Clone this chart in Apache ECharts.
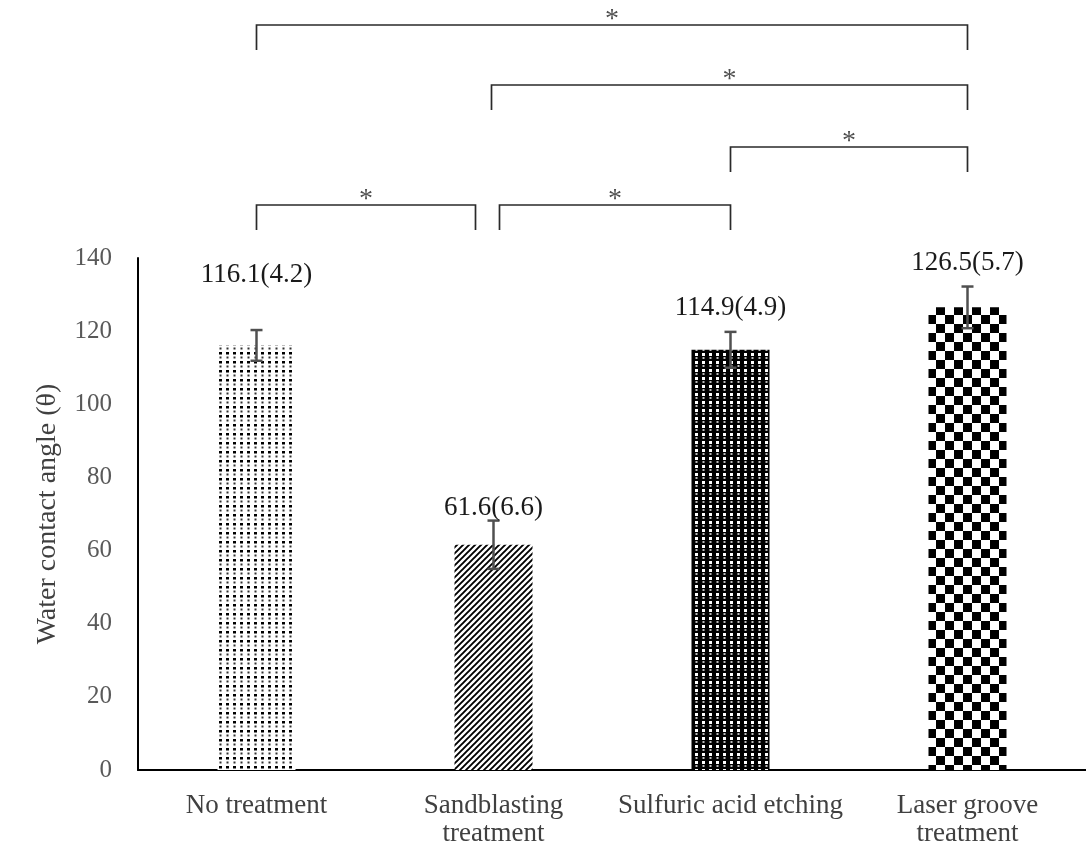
<!DOCTYPE html>
<html><head><meta charset="utf-8">
<script src="https://cdn.jsdelivr.net/npm/echarts@6/dist/echarts.min.js"></script>
<style>html,body{margin:0;padding:0;background:#fff}#c{width:1086px;height:852px}</style>
</head><body><div id="c"></div>
<script>
// ---- data ----
const categories = ['No treatment', 'Sandblasting\ntreatment', 'Sulfuric acid etching', 'Laser groove\ntreatment'];
const means = [116.1, 61.6, 114.9, 126.5];
const sds = [4.2, 6.6, 4.9, 5.7];
const yMin = 0, yMax = 140, yStep = 20;
// significance comparisons: [fromIndex, toIndex]
const comparisons = [[0, 3], [1, 3], [2, 3], [0, 1], [1, 2]];
const sigMarks = ['*', '*', '*', '*', '*'];

// ---- styling (not data) ----
const FONT = '"Liberation Serif", "Times New Roman", serif';
const labelLift = [70, 37, 42, 44];           // px above bar top for value labels
const bracketLevel = [233, 173, 111, 53, 53]; // px above grid top
const bracketEndShift = [[0, 0], [-2, 0], [0, 0], [0, -18], [6, 0]];
const bracketDrop = 25;

function tile(w, h, draw) {
  const c = document.createElement('canvas');
  c.width = w; c.height = h;
  const g = c.getContext('2d');
  draw(g);
  return c;
}
const patDots = tile(7, 9, g => {
  g.fillStyle = '#fff'; g.fillRect(0, 0, 7, 9);
  g.fillStyle = '#000'; g.fillRect(2, 1, 3, 2.5);
  g.fillStyle = '#333'; g.fillRect(2.5, 5.5, 2, 2);
});
const patDiag = tile(6, 6, g => {
  g.fillStyle = '#fff'; g.fillRect(0, 0, 6, 6);
  g.strokeStyle = '#000'; g.lineWidth = 1.9;
  g.beginPath();
  g.moveTo(-1, 7); g.lineTo(7, -1);
  g.moveTo(-1, 1); g.lineTo(1, -1);
  g.moveTo(5, 7); g.lineTo(7, 5);
  g.stroke();
});
const patBlackDots = tile(7, 8, g => {
  g.fillStyle = '#000'; g.fillRect(0, 0, 7, 8);
  g.fillStyle = '#fff'; g.fillRect(2, 1, 3, 3);
  g.fillStyle = '#bbb'; g.fillRect(2.5, 5, 2, 2);
});
const patChecker = tile(18, 18, g => {
  g.fillStyle = '#fff'; g.fillRect(0, 0, 18, 18);
  g.fillStyle = '#000'; g.fillRect(0, 0, 9, 9); g.fillRect(9, 9, 9, 9);
});
const patterns = [patDots, patDiag, patBlackDots, patChecker];

const chart = echarts.init(document.getElementById('c'), null, { renderer: 'canvas' });

const option = {
  backgroundColor: '#ffffff',
  animation: false,
  grid: { left: 138, top: 258, width: 976, height: 512, containLabel: false },
  xAxis: {
    type: 'category',
    data: categories,
    axisLine: { lineStyle: { color: '#000', width: 2 } },
    axisTick: { show: false },
    axisLabel: { color: '#404040', fontFamily: FONT, fontSize: 27, lineHeight: 28, margin: 22, interval: 0 },
    splitLine: { show: false }
  },
  yAxis: {
    type: 'value',
    min: yMin, max: yMax, interval: yStep,
    name: 'Water contact angle (θ)',
    nameLocation: 'middle',
    nameRotate: 90,
    nameGap: 76,
    nameTextStyle: { color: '#404040', fontFamily: FONT, fontSize: 28 },
    axisLine: { show: true, lineStyle: { color: '#000', width: 2 } },
    axisTick: { show: false },
    axisLabel: { color: '#595959', fontFamily: FONT, fontSize: 25, margin: 26 },
    splitLine: { show: false }
  },
  series: [
    {
      type: 'bar',
      barWidth: 78,
      data: means.map((v, i) => ({ value: v, itemStyle: { color: { image: patterns[i], repeat: 'repeat' } } })),
      z: 2
    },
    {
      type: 'custom',
      data: means.map((m, i) => [i, m, sds[i]]),
      encode: { x: 0, y: 1 },
      z: 3,
      renderItem: function (params, api) {
        const i = api.value(0), m = api.value(1), s = api.value(2);
        const top = api.coord([i, m + s]);
        const bot = api.coord([i, m - s]);
        const cw = 6;
        const st = { stroke: '#505050', lineWidth: 2.5 };
        return {
          type: 'group',
          children: [
            { type: 'line', shape: { x1: top[0], y1: top[1], x2: bot[0], y2: bot[1] }, style: st },
            { type: 'line', shape: { x1: top[0] - cw, y1: top[1], x2: top[0] + cw, y2: top[1] }, style: st },
            { type: 'line', shape: { x1: bot[0] - cw, y1: bot[1], x2: bot[0] + cw, y2: bot[1] }, style: st }
          ]
        };
      }
    },
    {
      type: 'custom',
      data: means.map((m, i) => [i, m, sds[i]]),
      encode: { x: 0, y: 1 },
      z: 4,
      clip: false,
      renderItem: function (params, api) {
        const i = api.value(0), m = api.value(1), s = api.value(2);
        const p = api.coord([i, m]);
        return {
          type: 'text',
          style: {
            x: p[0], y: p[1] - labelLift[params.dataIndex],
            text: m.toFixed(1) + '(' + s.toFixed(1) + ')',
            fill: '#1a1a1a', font: '27px ' + FONT, align: 'center', verticalAlign: 'middle'
          }
        };
      }
    },
    {
      type: 'custom',
      data: comparisons.map((c, k) => [c[0], c[1], k]),
      encode: { x: [0, 1] },
      z: 5,
      clip: false,
      renderItem: function (params, api) {
        const a = api.value(0), b = api.value(1), k = api.value(2);
        const gridTop = api.coord([0, yMax])[1];
        const xa = api.coord([a, yMin])[0] + bracketEndShift[k][0];
        const xb = api.coord([b, yMin])[0] + bracketEndShift[k][1];
        const y = gridTop - bracketLevel[k];
        const st = { stroke: '#2a2a2a', lineWidth: 1.7, fill: null };
        return {
          type: 'group',
          children: [
            { type: 'polyline', shape: { points: [[xa, y + bracketDrop], [xa, y], [xb, y], [xb, y + bracketDrop]] }, style: st },
            { type: 'text', style: { x: (xa + xb) / 2, y: y - 5, text: sigMarks[k], fill: '#505050', font: '28px ' + FONT, align: 'center', verticalAlign: 'middle' } }
          ]
        };
      }
    }
  ]
};
chart.setOption(option);
</script>
</body></html>
